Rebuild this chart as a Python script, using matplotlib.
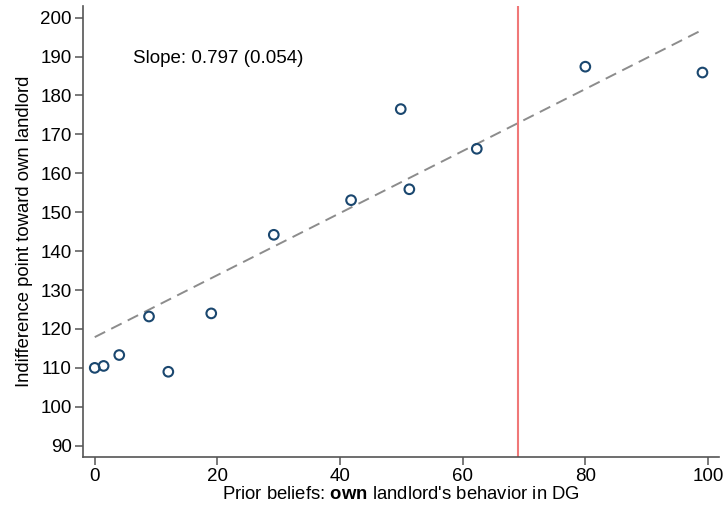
import matplotlib
matplotlib.use('Agg')
import matplotlib.pyplot as plt
import numpy as np

plt.rcParams['font.family'] = ['Liberation Sans', 'DejaVu Sans']
plt.rcParams['mathtext.fontset'] = 'custom'
plt.rcParams['mathtext.rm'] = 'Liberation Sans'
plt.rcParams['mathtext.bf'] = 'Liberation Sans:bold'

# binned scatter: prior beliefs vs indifference point
prior = [0.0, 1.45, 4.0, 8.85, 12.0, 19.0, 29.2, 41.8, 49.9, 51.3, 62.3, 80.0, 99.1]
indiff = [110.0, 110.5, 113.3, 123.2, 109.0, 124.0, 144.2, 153.1, 176.5, 155.9, 166.3, 187.4, 185.9]

# fitted line
slope = 0.797
intercept = 117.9
cutoff = 69.0

fig, ax = plt.subplots(figsize=(7.23, 5.11), dpi=100)
fig.subplots_adjust(left=0.1144, right=0.9945, bottom=0.1057, top=0.9883)

xs = np.array([min(prior), max(prior)])
ax.plot(xs, intercept + slope * xs, color='#8c8c8c', lw=1.4, dashes=(6, 3.5))
ax.axvline(cutoff, color='#f07878', lw=1.5)
ax.scatter(prior, indiff, s=48, facecolors='none', edgecolors='#1a476f', linewidths=1.5, zorder=3)

ax.text(6.2, 189.6, 'Slope: 0.797 (0.054)', fontsize=13.5, ha='left', va='center')

ax.set_xlim(-1.96, 101.8)
ax.set_ylim(87.1, 203.0)
ax.set_xticks([0, 20, 40, 60, 80, 100])
ax.set_yticks(np.arange(90, 201, 10))

for s in ['top', 'right']:
    ax.spines[s].set_visible(False)
for s in ['left', 'bottom']:
    ax.spines[s].set_color('#555555')
    ax.spines[s].set_linewidth(1.2)
ax.tick_params(direction='out', length=6, width=1.1, color='#555555', labelsize=13.5, pad=2)

ax.set_xlabel(r"Prior beliefs: $\mathbf{own}$ landlord's behavior in DG", fontsize=13.3, labelpad=1)
ax.set_ylabel('Indifference point toward own landlord', fontsize=13.3, labelpad=5)

fig.savefig('out.png', dpi=100)
